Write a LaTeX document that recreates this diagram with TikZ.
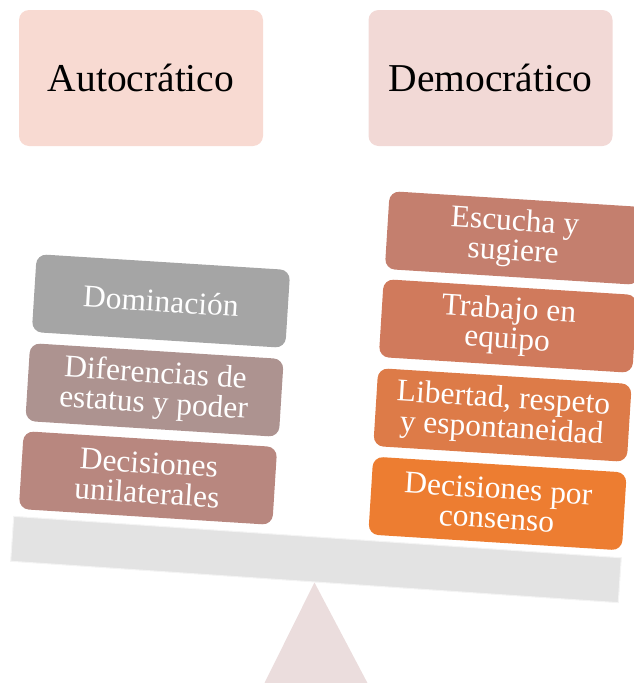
\documentclass[tikz,border=0pt]{standalone}
\usepackage{fontspec}
\setmainfont{Liberation Serif}
\usepackage{tikz}
\newcommand{\blocktext}{\fontsize{31.5}{30}\selectfont}
\newcommand{\headtext}{\fontsize{39.5}{40}\selectfont}
\definecolor{autofill}{HTML}{F8DAD2}
\definecolor{demofill}{HTML}{F2D9D6}
\definecolor{beamfill}{HTML}{E3E3E3}
\definecolor{pivotfill}{HTML}{EBDDDD}
\tikzstyle{header}=[rounded corners=10pt, inner sep=0, minimum width=244pt, minimum height=136pt, font=\headtext]
\tikzstyle{block}=[rounded corners=10pt, inner sep=0, minimum width=254pt, minimum height=78pt, rotate=-3.6,
                   text=white, align=center, font=\blocktext]
\tikzstyle{balance}=[x=1pt, y=-1pt,
                     % Keep the page the size of the reference.
                     execute at begin picture={\useasboundingbox (0, 0) rectangle (634, 683);}]

\begin{document}
\begin{tikzpicture}[balance]
        \node[header, fill=autofill] (Aut) at (141, 78) {Autocrático};
        \node[header, fill=demofill] (Dem) at (490.5, 78) {Democrático};
        \node[fill=beamfill, draw=white!60!beamfill, line width=1pt, minimum width=609pt, minimum height=45pt, inner sep=0, rotate=-3.9] (beam) at (316, 559.5) {};
        \fill[pivotfill] (beam.south) -- (264, 684) -- (368, 684) -- cycle;
        \node[block, fill={rgb,255:red,165;green,165;blue,165}] (L1) at (161, 301) {Dominación};
        \node[block, fill={rgb,255:red,173;green,147;blue,144}] (L2) at (154.5, 390) {Diferencias de\\estatus y poder};
        \node[block, fill={rgb,255:red,184;green,135;blue,127}] (L3) at (148, 478) {Decisiones\\unilaterales};
        \node[block, fill={rgb,255:red,196;green,127;blue,110}] (R1) at (514, 238) {Escucha y\\sugiere};
        \node[block, fill={rgb,255:red,208;green,122;blue,92}] (R2) at (508, 326) {Trabajo en\\equipo};
        \node[block, fill={rgb,255:red,221;green,123;blue,72}] (R3) at (502.5, 415) {Libertad, respeto\\y espontaneidad};
        \node[block, fill={rgb,255:red,237;green,125;blue,49}] (R4) at (497.5, 503.5) {Decisiones por\\consenso};
    \end{tikzpicture}
\end{document}
